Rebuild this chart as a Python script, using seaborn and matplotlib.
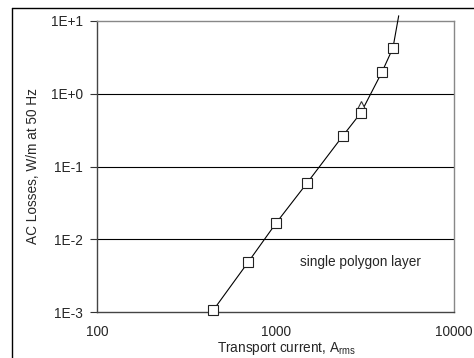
import numpy as np
import pandas as pd
import seaborn as sns
import matplotlib.pyplot as plt
from matplotlib.lines import Line2D
from matplotlib.ticker import FixedLocator, FuncFormatter, LogLocator, NullFormatter

# measured points (square markers)
current = [447, 701, 1006, 1500, 2390, 3013, 3954, 4550]
losses = [0.00105, 0.0048, 0.0166, 0.059, 0.266, 0.55, 2.0, 4.27]

# single triangle point
tri_current = [3013]
tri_losses = [0.685]

# fitted line, continues past the top of the plot
fit_current = [447, 701, 1006, 1500, 2390, 3013, 3954, 4550, 4900]
fit_losses = [0.00105, 0.0048, 0.0166, 0.059, 0.266, 0.55, 2.0, 4.27, 11.8]

yticks = [1e-3, 1e-2, 1e-1, 1e0, 1e1]
xticks = [100, 1000, 10000]

sns.set_style("white")
plt.rcParams["font.family"] = ["Liberation Sans", "DejaVu Sans"]
plt.rcParams["mathtext.default"] = "regular"
fs = 9.8

fig = plt.figure(figsize=(4.74, 3.58), dpi=100)
ax = fig.add_axes([97 / 474, 1 - 312 / 358, 357 / 474, 291 / 358])

df_fit = pd.DataFrame({"I": fit_current, "P": fit_losses})
df_sq = pd.DataFrame({"I": current, "P": losses})
df_tri = pd.DataFrame({"I": tri_current, "P": tri_losses})

sns.lineplot(data=df_fit, x="I", y="P", ax=ax, color="black", lw=0.8,
             clip_on=False, zorder=3, sort=False)
ax.plot(df_tri["I"], df_tri["P"], ls="none", marker="^", ms=6.5, mfc="white",
        mec="#333333", mew=0.8, zorder=4)
ax.plot(df_sq["I"], df_sq["P"], ls="none", marker="s", ms=6.5, mfc="white",
        mec="#222222", mew=0.8, zorder=5, clip_on=False)

ax.set_xscale("log")
ax.set_yscale("log")
ax.set_xlim(100, 10000)
ax.set_ylim(1e-3, 1e1)

for y in yticks[1:-1]:
    ax.axhline(y, color="black", lw=0.8, zorder=1)

ax.xaxis.set_major_locator(FixedLocator(xticks))
ax.xaxis.set_major_formatter(FuncFormatter(lambda v, p: f"{int(v)}"))
ax.xaxis.set_minor_locator(LogLocator(base=10, subs=np.arange(2, 10)))
ax.xaxis.set_minor_formatter(NullFormatter())
ax.yaxis.set_major_locator(FixedLocator(yticks))
ax.yaxis.set_major_formatter(FuncFormatter(lambda v, p: f"1E{int(round(np.log10(v))):+d}"))
ax.yaxis.set_minor_locator(FixedLocator([]))

ax.tick_params(axis="x", which="major", direction="inout", length=7, width=0.8,
               color="#333333", labelsize=fs, pad=6)
ax.tick_params(axis="x", which="minor", direction="in", length=4, width=0.8,
               color="#333333")
ax.tick_params(axis="y", which="major", direction="out", length=5, width=0.8,
               color="#333333", labelsize=fs, pad=5, left=True)

for side in ["left", "bottom"]:
    ax.spines[side].set_color("#444444")
    ax.spines[side].set_linewidth(1.0)
for side in ["top", "right"]:
    ax.spines[side].set_color("#888888")
    ax.spines[side].set_linewidth(1.0)

ax.set_xlabel("Transport current, A$_{rms}$", fontsize=fs)
ax.xaxis.set_label_coords(0.53, -0.095)
ax.set_ylabel("AC Losses, W/m at 50 Hz", fontsize=fs)
ax.yaxis.set_label_coords(-0.16, 0.5)

ax.text(1370, 0.0048, "single polygon layer", fontsize=fs, va="center", ha="left")

# outer chart frame (left and top edges only)
fig.add_artist(Line2D([12 / 474, 12 / 474], [0, 1 - 8 / 358], color="black", lw=1.0))
fig.add_artist(Line2D([12 / 474, 1], [1 - 8 / 358, 1 - 8 / 358], color="black", lw=1.0))

fig.savefig("out.png", dpi=100)
